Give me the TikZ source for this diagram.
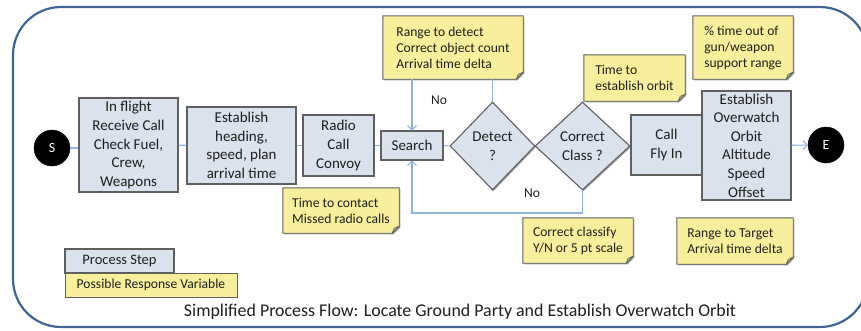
\documentclass[tikz,border=0pt]{standalone}
\usepackage{fontspec}
\setmainfont{Carlito}
\usetikzlibrary{shapes.geometric,arrows.meta,shadows,backgrounds,calc}
\definecolor{boxfill}{HTML}{DAE2EE}
\definecolor{boxline}{HTML}{5F5F5F}
\definecolor{notefill}{HTML}{F8EF9C}
\definecolor{foldfill}{HTML}{C9C27E}
\definecolor{connblue}{HTML}{8FB3E0}
\definecolor{frameblue}{HTML}{3E6596}
\definecolor{txt}{HTML}{1E1E1E}
\begin{document}
\begin{tikzpicture}[x=1pt,y=-1pt,
 softshadow/.style={drop shadow={shadow xshift=1.2pt,shadow yshift=-1.2pt,opacity=0.35,fill=black}},
 proc/.style={rectangle,draw=boxline,fill=boxfill,line width=1.1pt,inner sep=0pt,align=center,text=txt,font=\fontsize{15}{18.6}\selectfont,softshadow},
 decision/.style={diamond,draw=boxline,fill=boxfill,line width=1.1pt,inner sep=0pt,align=center,text=txt,font=\fontsize{15}{18.6}\selectfont,softshadow},
 term/.style={circle,fill=black,draw=black,minimum size=36pt,inner sep=0pt,text=white,font=\fontsize{14}{16}\selectfont},
 notetext/.style={rectangle,inner sep=0pt,align=left,text=txt,font=\fontsize{13.6}{16}\selectfont},
 noteshape/.style={fill=notefill,draw=boxline,line width=0.9pt,softshadow},
 foldshape/.style={fill=foldfill,draw=boxline,line width=0.6pt},
 conn/.style={draw=connblue,line width=1.1pt},
 arr/.style={conn,-{Straight Barb[length=4pt,width=9pt]}},
 lbl/.style={text=txt,font=\fontsize{13.5}{15}\selectfont},
]
\useasboundingbox (0,0) rectangle (861,330);
\begin{scope}
\clip (0,0) rectangle (861,330);
\draw[frameblue,line width=2.2pt,rounded corners=48pt] (13,7) rectangle (868,327);
\end{scope}

% process flow
\node[term] (S) at (52,148) {S};
\node[proc,minimum width=99pt,minimum height=94pt] (b1) at (128.5,145) {In flight\\Receive Call\\Check Fuel,\\Crew,\\Weapons};
\node[proc,minimum width=109pt,minimum height=77pt] (b2) at (241.5,145.5) {Establish\\heading,\\speed, plan\\arrival time};
\node[proc,minimum width=71pt,minimum height=61pt] (b3) at (338.5,145.5) {Radio\\Call\\Convoy};
\node[proc,minimum width=62pt,minimum height=29pt] (search) at (412,145.5) {Search};
\node[decision,minimum width=85pt,minimum height=88pt] (detect) at (492.5,146) {Detect\\?};
\node[decision,minimum width=95pt,minimum height=88pt] (class) at (582.5,146) {Correct\\Class ?};
\node[proc,minimum width=71pt,minimum height=60pt] (fly) at (666.5,145) {Call\\Fly In};
\node[proc,minimum width=89pt,minimum height=109pt] (over) at (746.5,145.5) {Establish\\Overwatch\\Orbit\\Altitude\\Speed\\Offset};
\node[term] (E) at (826,145) {E};

% notes
\node[notetext,minimum width=140pt,minimum height=63pt] (n1) at (453,47.5) {Range to detect\\Correct object count\\Arrival time delta};
\node[notetext,minimum width=116pt,minimum height=45pt] (n2) at (341,210.5) {Time to contact\\Missed radio calls};
\node[notetext,minimum width=101pt,minimum height=46pt] (n3) at (634.5,78) {Time to\\establish orbit};
\node[notetext,minimum width=100pt,minimum height=63pt] (n4) at (743,47.5) {\% time out of\\gun/weapon\\support range};
\node[notetext,minimum width=110pt,minimum height=45pt] (n5) at (578,240.5) {Correct classify\\Y/N or 5 pt scale};
\node[notetext,minimum width=116pt,minimum height=46pt] (n6) at (735,241) {Range to Target\\Arrival time delta};

\begin{scope}[on background layer]
\foreach \n in {n1,n2,n3,n4,n5,n6} {
  \filldraw[noteshape] (\n.north west) -- (\n.north east) -- ([yshift=7pt]\n.south east) -- ([xshift=-7pt]\n.south east) -- (\n.south west) -- cycle;
  \filldraw[foldshape] ([yshift=7pt]\n.south east) -- ([xshift=-7pt]\n.south east) -- ([xshift=-5pt,yshift=5pt]\n.south east) -- cycle;
}
\end{scope}

% connectors
\draw[conn] (S.east) -- (S.east -| b1.west);
\draw[conn] (b1) -- (b2);
\draw[conn] (b2) -- (b3);
\draw[conn] (b3) -- (search);
\draw[conn] (search.east) -- (detect.west);
\draw[arr] (over) -- (E);
\draw[arr] (search.north |- n1.south) -- (search.north);
\draw[conn] (detect.north |- n1.south) -- (detect.north);
\coordinate (loop) at (582.5,213);
\draw[arr] (class.south) -- (loop) -| (search.south);
\node[lbl] (no1) at (439,100) {No};
\node[lbl] (no2) at (532,193) {No};

% legend
\node[proc,minimum width=109pt,minimum height=24pt,font=\fontsize{14.5}{16}\selectfont] (lg1) at (119.5,261) {Process Step};
\node[rectangle,fill=notefill,draw=boxline,line width=0.9pt,minimum width=172pt,minimum height=24pt,text=txt,font=\fontsize{13.6}{15}\selectfont] (lg2) at (151,285) {Possible Response Variable};

% caption
\node[text=txt,font=\fontsize{17.9}{20}\selectfont] (cap) at (460,312) {Simplified Process Flow: Locate Ground Party and Establish Overwatch Orbit};
\end{tikzpicture}
\end{document}
